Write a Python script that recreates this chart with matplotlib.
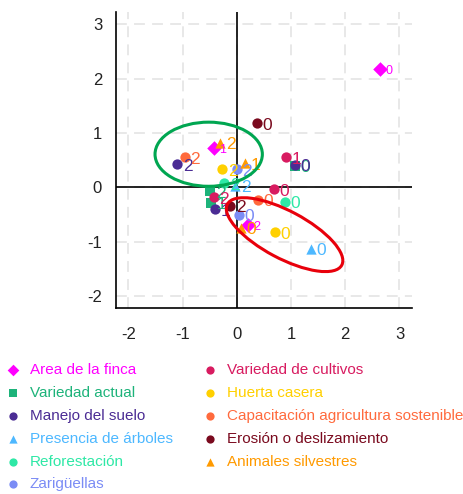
import matplotlib.pyplot as plt
from matplotlib.patches import Ellipse

plt.rcParams['font.family'] = ['Liberation Sans', 'DejaVu Sans']
plt.rcParams['axes.unicode_minus'] = False

# categorias y colores (orden de la leyenda)
categorias = ["Area de la finca", "Variedad actual", "Manejo del suelo",
              "Presencia de árboles", "Reforestación", "Zarigüellas",
              "Variedad de cultivos", "Huerta casera",
              "Capacitación agricultura sostenible", "Erosión o deslizamiento",
              "Animales silvestres"]
colores = ["#ff00ff", "#1db37a", "#4b2c94", "#4db8ff", "#2ee8a6", "#7b8cf5",
           "#d81b60", "#ffd000", "#ff6a3d", "#7a0a1e", "#ff9a00"]
marcadores = ["D", "s", "o", "^", "o", "o", "o", "o", "o", "o", "^"]

# coordenadas de cada nivel (x, y, etiqueta)
area_x = [2.64, -0.43, 0.20]
area_y = [2.18, 0.73, -0.69]
area_lab = ["0", "1", "2"]
varact_x = [1.07, -0.48, -0.49]
varact_y = [0.40, -0.28, -0.07]
varact_lab = ["0", "1", "2"]
manejo_x = [1.07, -0.40, -1.10]
manejo_y = [0.42, -0.40, 0.43]
manejo_lab = ["0", "1", "2"]
arboles_x = [1.37, -0.03]
arboles_y = [-1.13, 0.03]
arboles_lab = ["0", "2"]
refor_x = [0.88, -0.23]
refor_y = [-0.26, 0.08]
refor_lab = ["0", "2"]
zari_x = [0.04, 0.00]
zari_y = [-0.50, 0.33]
zari_lab = ["0", "2"]
cultivos_x = [0.69, 0.90, -0.43]
cultivos_y = [-0.03, 0.56, -0.18]
cultivos_lab = ["0", "1", "2"]
huerta_x = [0.70, -0.27]
huerta_y = [-0.83, 0.33]
huerta_lab = ["0", "2"]
capac_x = [0.39, -0.96]
capac_y = [-0.23, 0.56]
capac_lab = ["0", "2"]
erosion_x = [0.37, -0.12]
erosion_y = [1.18, -0.34]
erosion_lab = ["0", "2"]
animales_x = [0.07, 0.15, -0.31]
animales_y = [-0.74, 0.44, 0.82]
animales_lab = ["0", "1", "2"]

series = [(area_x, area_y, area_lab), (varact_x, varact_y, varact_lab),
          (manejo_x, manejo_y, manejo_lab), (arboles_x, arboles_y, arboles_lab),
          (refor_x, refor_y, refor_lab), (zari_x, zari_y, zari_lab),
          (cultivos_x, cultivos_y, cultivos_lab), (huerta_x, huerta_y, huerta_lab),
          (capac_x, capac_y, capac_lab), (erosion_x, erosion_y, erosion_lab),
          (animales_x, animales_y, animales_lab)]

ticks = [-2, -1, 0, 1, 2, 3]

fig = plt.figure(figsize=(4.64, 4.94), dpi=100)
ax = fig.add_axes([0.25, 0.3765, 0.639, 0.5995])

for i, (xs, ys, labs) in enumerate(series):
    ax.scatter(xs, ys, marker=marcadores[i], color=colores[i], s=55,
               label=categorias[i], zorder=3, linewidths=0)
    tam = 9 if i == 0 else 12.5
    for x, y, t in zip(xs, ys, labs):
        ax.annotate(t, (x, y), xytext=(4, -1.5), textcoords="offset points",
                    color=colores[i], fontsize=tam, va="center", zorder=4)

# elipses que marcan los grupos
ax.add_patch(Ellipse((-0.52, 0.61), 1.98, 1.18, fill=False,
                     edgecolor="#00a651", lw=2.2, zorder=5))
ax.add_patch(Ellipse((0.88, -0.87), 2.39, 0.87, angle=-28, fill=False,
                     edgecolor="#e8000b", lw=2.2, zorder=5))

ax.axhline(0, color="black", lw=1.2, zorder=2)
ax.axvline(0, color="black", lw=1.2, zorder=2)

ax.set_xlim(-2.23, 3.24)
ax.set_ylim(-2.22, 3.23)
ax.set_xticks(ticks)
ax.set_yticks(ticks)
ax.grid(True, color="#e6e6e6", lw=1.3, ls=(0, (6, 4)), zorder=0)
ax.set_axisbelow(True)
for s in ["top", "right"]:
    ax.spines[s].set_visible(False)
ax.spines["left"].set_linewidth(1.2)
ax.spines["bottom"].set_linewidth(1.2)
ax.tick_params(length=0, labelsize=12, colors="#222222")
ax.tick_params(axis="x", pad=14)
ax.tick_params(axis="y", pad=10)

leg = fig.legend(loc="upper left", bbox_to_anchor=(0.0116, 0.265), ncol=2,
                 frameon=False, fontsize=11, handletextpad=0.6,
                 columnspacing=1.95, labelspacing=0.58, markerscale=0.8,
                 handlelength=1.0, borderpad=0, borderaxespad=0)
for txt, c in zip(leg.get_texts(), colores):
    txt.set_color(c)

fig.savefig("out.png", dpi=100)
